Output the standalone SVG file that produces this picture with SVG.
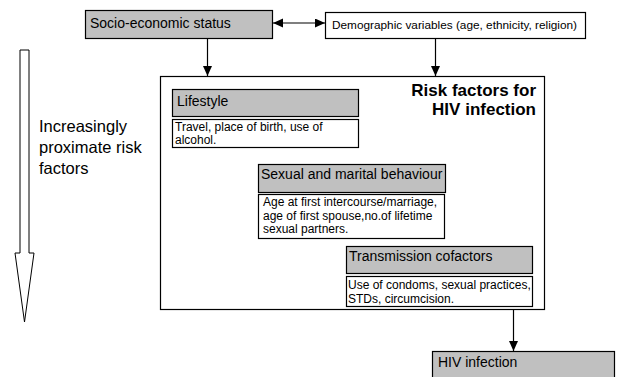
<svg xmlns="http://www.w3.org/2000/svg" width="619" height="377" viewBox="0 0 619 377">
<style>
text{font-family:"Liberation Sans",Arial,sans-serif;fill:#000}
.hdr{fill:#c0c0c0;stroke:#000;stroke-width:1.2}
.box{fill:#fff;stroke:#000;stroke-width:1.2}
.t14{font-size:14px}
.t12{font-size:12px}
.con{stroke:#000;stroke-width:1.2;fill:none}
</style>
<defs>
<marker id="ah" markerUnits="userSpaceOnUse" markerWidth="10" markerHeight="10" refX="10" refY="4.5" orient="auto-start-reverse">
<path d="M0,0 L10,4.5 L0,9 z" fill="#000"/>
</marker>
</defs>
<g id="direction-arrow">
<polygon points="20,50 29,50 29,253 34,253 24.5,322 15,253 20,253" fill="#fff" stroke="#000" stroke-width="1"/>
<text x="39" y="132" style="font-size:16.5px">Increasingly</text>
<text x="39" y="153" style="font-size:16.5px">proximate risk</text>
<text x="39" y="174" style="font-size:16.5px">factors</text>
</g>
<g id="socio">
<rect class="hdr" x="85.5" y="10.5" width="187" height="28"/>
<text class="t14" x="90" y="28">Socio-economic status</text>
</g>
<g id="demographic">
<rect class="box" x="325.5" y="12.5" width="260" height="26"/>
<text x="332" y="29" style="font-size:11.8px">Demographic variables (age, ethnicity, religion)</text>
</g>
<g id="risk-factors">
<rect class="box" x="160.5" y="76.5" width="384" height="233"/>
<text x="536" y="96" text-anchor="end" style="font-size:17px;font-weight:bold">Risk factors for</text>
<text x="536" y="115" text-anchor="end" style="font-size:17px;font-weight:bold">HIV infection</text>
</g>
<g id="lifestyle">
<rect class="hdr" x="172.5" y="89.5" width="186" height="27"/>
<text class="t14" x="177" y="106">Lifestyle</text>
<rect class="box" x="172.5" y="119.5" width="186" height="28"/>
<text class="t12" x="175" y="131">Travel, place of birth, use of</text>
<text class="t12" x="175" y="144">alcohol.</text>
</g>
<g id="sexual">
<rect class="hdr" x="258.5" y="164.5" width="187" height="28"/>
<text class="t14" x="261" y="179">Sexual and marital behaviour</text>
<rect class="box" x="258.5" y="194.5" width="186" height="44"/>
<text class="t12" x="263" y="206">Age at first intercourse/marriage,</text>
<text class="t12" x="263" y="219.5">age of first spouse,no.of lifetime</text>
<text class="t12" x="263" y="233">sexual partners.</text>
</g>
<g id="transmission">
<rect class="hdr" x="346.5" y="246.5" width="186" height="27"/>
<text class="t14" x="349" y="261">Transmission cofactors</text>
<rect class="box" x="346.5" y="276.5" width="186" height="30"/>
<text class="t12" x="348" y="289">Use of condoms, sexual practices,</text>
<text class="t12" x="348" y="303">STDs, circumcision.</text>
</g>
<g id="hiv">
<rect class="hdr" x="432.5" y="351.5" width="182" height="30"/>
<text class="t14" x="438" y="367">HIV infection</text>
</g>
<g id="connectors">
<line class="con" x1="207.5" y1="38" x2="207.5" y2="76" marker-end="url(#ah)"/>
<line class="con" x1="435.5" y1="38" x2="435.5" y2="76" marker-end="url(#ah)"/>
<line class="con" x1="273" y1="23" x2="325" y2="23" marker-start="url(#ah)" marker-end="url(#ah)"/>
<line class="con" x1="513.5" y1="310" x2="513.5" y2="351" marker-end="url(#ah)"/>
</g>
</svg>
